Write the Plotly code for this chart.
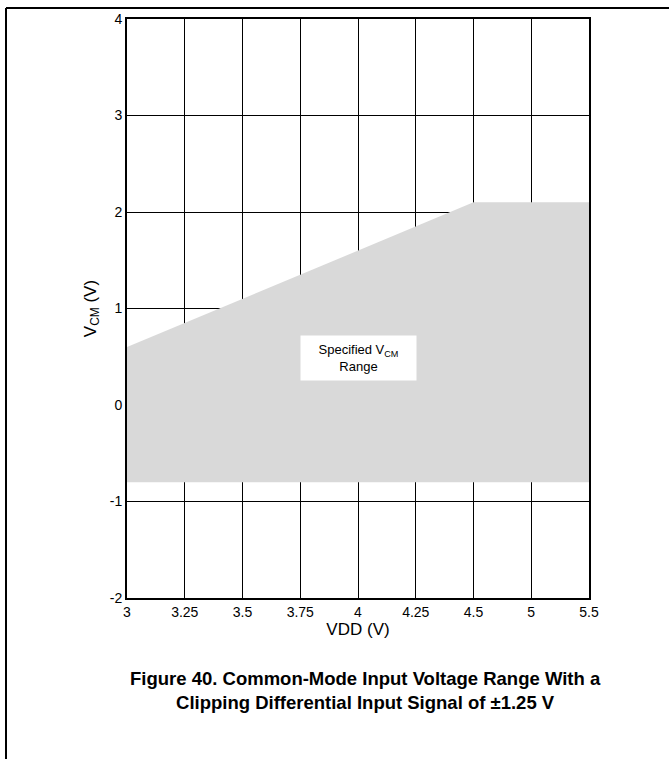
import plotly.graph_objects as go

# Data
vdd_labels = ["3", "3.25", "3.5", "3.75", "4", "4.25", "4.5", "5", "5.5"]
region_vdd = ["3", "4.5", "5.5"]
vcm_upper = [0.6, 2.1, 2.1]
vcm_lower = [-0.8, -0.8, -0.8]
y_ticks = [-2, -1, 0, 1, 2, 3, 4]
y_tick_labels = ["-2", "-1", "0", "1", "2", "3", "4"]

pos = {lab: i for i, lab in enumerate(vdd_labels)}
xr = [pos[v] for v in region_vdd]

fig = go.Figure()
fig.add_trace(go.Scatter(x=xr, y=vcm_lower, mode="lines", line=dict(width=0),
                         hoverinfo="skip", showlegend=False))
fig.add_trace(go.Scatter(x=xr, y=vcm_upper, mode="lines", line=dict(width=0),
                         fill="tonexty", fillcolor="#d9d9d9",
                         hoverinfo="skip", showlegend=False))

FAM = "Liberation Sans, Arial, sans-serif"
font = dict(family=FAM, size=14, color="black")

W, H = 669, 759
L, T, R, B = 127, 19, 80, 161
pw, ph = W - L - R, H - T - B

def px_x(x):  # page x -> paper
    return (x - L) / pw

def px_y(y):  # page y -> paper
    return (H - B - y) / ph

fig.update_layout(
    width=W, height=H,
    margin=dict(l=L, r=R, t=T, b=B),
    paper_bgcolor="white", plot_bgcolor="white",
    font=font,
    hovermode=False,
    xaxis=dict(range=[0, 8], tickmode="array", tickvals=list(range(len(vdd_labels))),
               ticktext=vdd_labels, showgrid=True, gridcolor="black", gridwidth=1,
               zeroline=False, showline=True, linecolor="black", linewidth=2,
               mirror=True, ticks="", title=dict(text="VDD (V)", standoff=4),
               layer="above traces"),
    yaxis=dict(range=[-2, 4], tickmode="array", tickvals=y_ticks, ticktext=y_tick_labels,
               showgrid=True, gridcolor="black", gridwidth=1,
               zeroline=False, showline=True, linecolor="black", linewidth=2,
               mirror=True, ticks="", title=dict(text="V<sub>CM</sub> (V)", standoff=9),
               layer="above traces"),
)

fig.add_annotation(x=4, y=0.49, xref="x", yref="y",
                   text="Specified V<sub>CM</sub><br>Range", showarrow=False,
                   bgcolor="white", borderpad=4, font=dict(family=FAM, size=13, color="black"),
                   width=107, height=36)

fig.add_annotation(x=px_x(365), y=px_y(690), xref="paper", yref="paper",
                   text="<b>Figure 40. Common-Mode Input Voltage Range With a<br>Clipping Differential Input Signal of ±1.25 V</b>",
                   showarrow=False, font=dict(family=FAM, size=18.5, color="black"), align="center",
                   xanchor="center", yanchor="middle")

# frame lines
fig.add_shape(type="line", xref="paper", yref="paper",
              x0=px_x(6), x1=px_x(672), y0=px_y(8), y1=px_y(8),
              line=dict(color="black", width=2))
fig.add_shape(type="line", xref="paper", yref="paper",
              x0=px_x(6), x1=px_x(6), y0=px_y(8), y1=px_y(770),
              line=dict(color="black", width=2))

fig.write_html("out.html", config={"displayModeBar": False},
               post_script="document.body.style.margin='0';document.body.style.overflow='hidden';")
